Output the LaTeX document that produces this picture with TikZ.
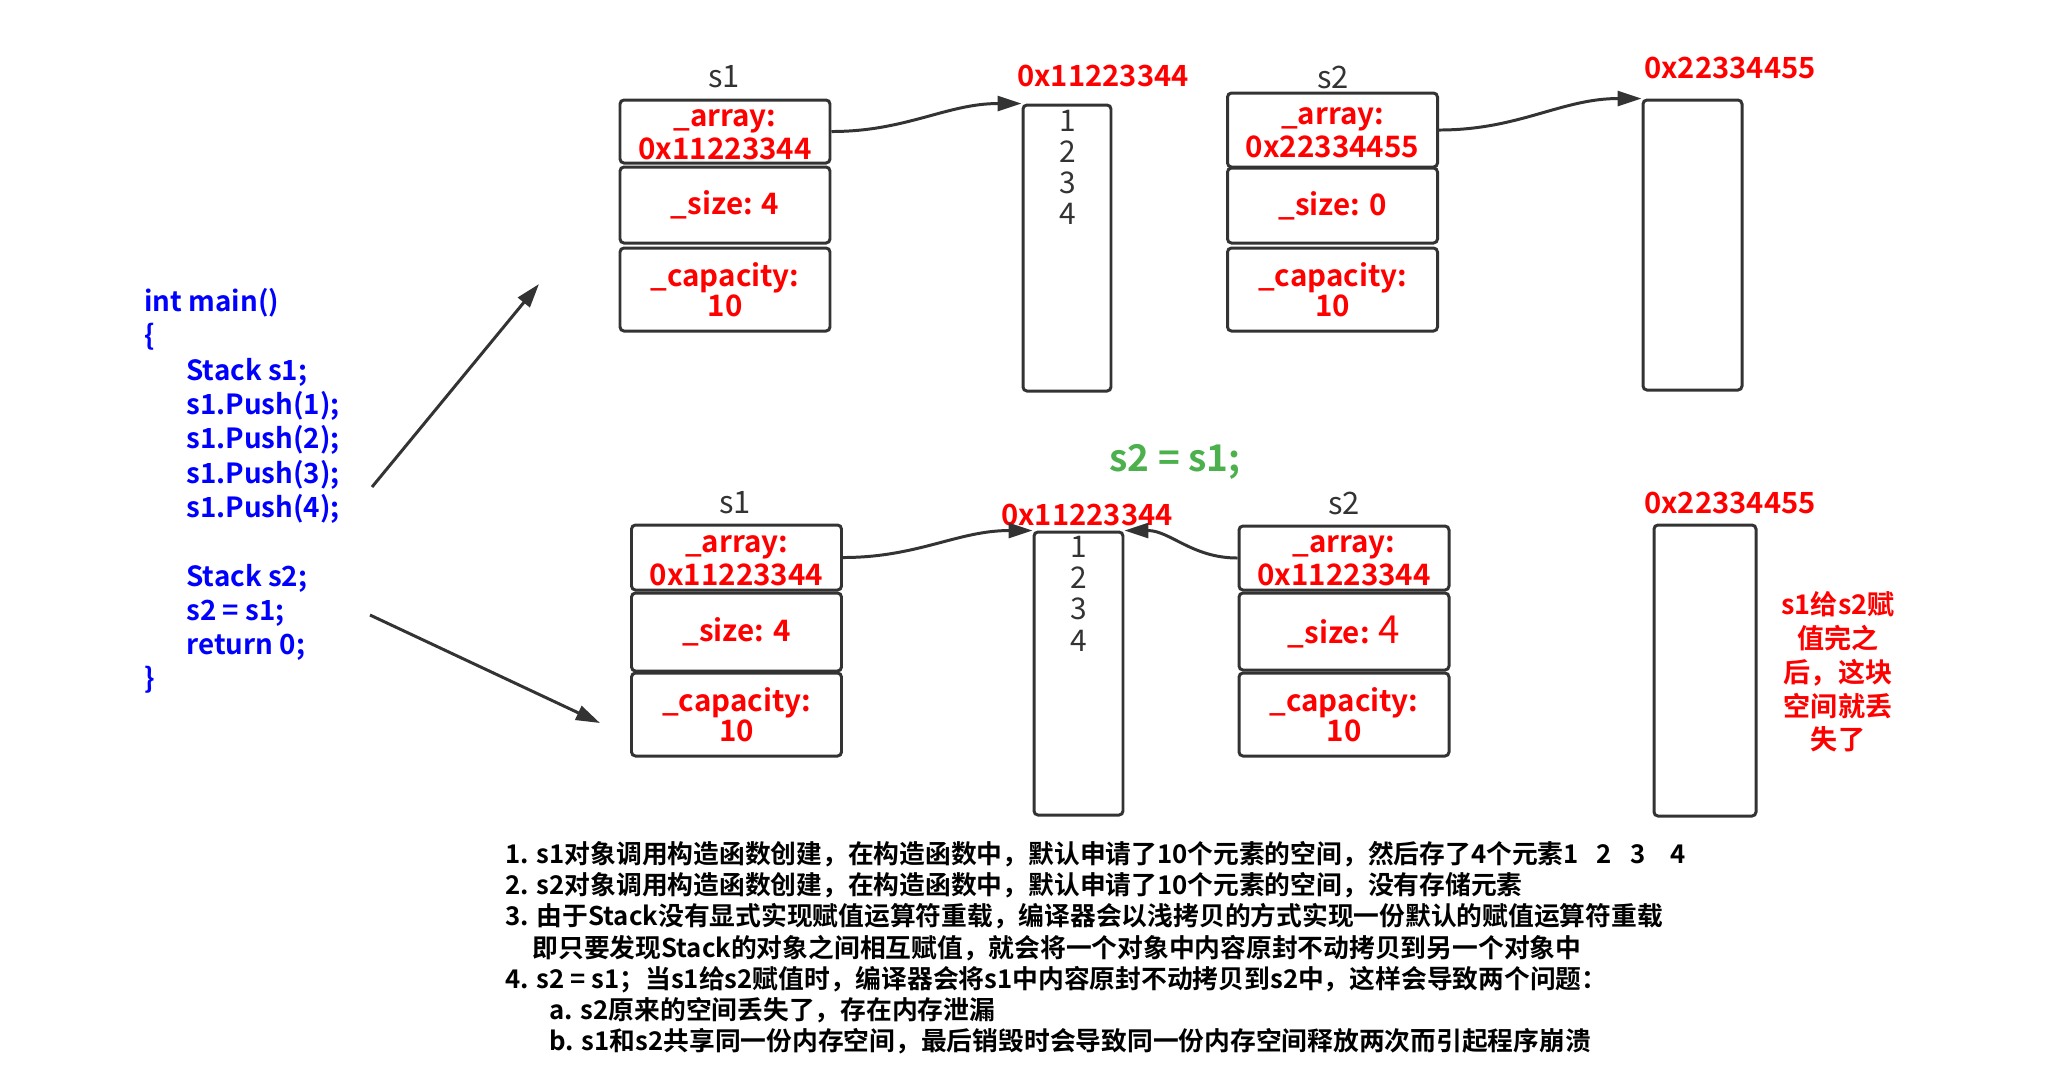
\documentclass[tikz,border=0pt]{standalone}
\usepackage{fontspec}
\setmainfont{Noto Sans CJK SC}[BoldFont={Noto Sans CJK SC Bold}]
\usetikzlibrary{arrows.meta}
\definecolor{boxgray}{HTML}{333333}
\definecolor{codeblue}{HTML}{0000FF}
\definecolor{memred}{HTML}{FF0000}
\definecolor{assigngreen}{HTML}{4CB04C}

\begin{document}
\begin{tikzpicture}[x=0.1mm,y=-0.1mm,line width=0.85pt,
  cell/.style={draw=boxgray,rounded corners=0.4mm,minimum width=21mm,inner sep=0pt,
    align=center,text=memred,font=\fontsize{8.4}{8.6}\selectfont\bfseries},
  ptrcell/.style={cell,font=\fontsize{8.4}{9.4}\selectfont\bfseries},
  block/.style={draw=boxgray,rounded corners=0.4mm,inner sep=0pt},
  varname/.style={text=boxgray,font=\fontsize{8.8}{10}\selectfont},
  addr/.style={text=memred,font=\fontsize{8.3}{10}\selectfont\bfseries},
  num/.style={text=boxgray,font=\fontsize{8.5}{10}\selectfont},
  link/.style={draw=boxgray,-{Triangle[length=2.4mm,width=1.5mm]}}]
  \useasboundingbox (0,0) rectangle (2055,1080);

  % code on the left
  \node[anchor=north west,inner sep=0pt,align=left,text=codeblue,
    font=\fontsize{7.9}{9.76}\selectfont\bfseries] (main) at (143,287)
    {int main()\\
     \{\\
     \hspace*{4.2mm}Stack s1;\\
     \hspace*{4.2mm}s1.Push(1);\\
     \hspace*{4.2mm}s1.Push(2);\\
     \hspace*{4.2mm}s1.Push(3);\\
     \hspace*{4.2mm}s1.Push(4);\\[9.76pt]
     \hspace*{4.2mm}Stack s2;\\
     \hspace*{4.2mm}s2 = s1;\\
     \hspace*{4.2mm}return 0;\\
     \}};
  \coordinate (up0) at (372,487);
  \coordinate (up1) at (539,284);
  \coordinate (dn0) at (370,615);
  \coordinate (dn1) at (600,723);
  \draw[link] (up0) -- (up1);
  \draw[link] (dn0) -- (dn1);

  % before the assignment
  \node[varname] (t1name) at (724,77) {s1};
  \node[ptrcell,minimum height=6.3mm] (t1arr) at (725,131.5) {\strut\_array:\\0x11223344};
  \node[cell,minimum height=7.6mm] (t1size) at (725,205) {\_size: 4};
  \node[cell,minimum height=8.3mm] (t1cap) at (725,289.5) {\_capacity:\\10};
  \node[block,minimum width=8.8mm,minimum height=28.6mm] (t1blk) at (1067,248) {};
  \node[addr] (t1addr) at (1103,76) {0x11223344};
  \node[num] (t1n1) at (1068,121) {1};
  \node[num] (t1n2) at (1068,152) {2};
  \node[num] (t1n3) at (1068,183) {3};
  \node[num] (t1n4) at (1068,214) {4};

  \node[varname] (t2name) at (1333,77) {s2};
  \node[ptrcell,minimum height=7.4mm] (t2arr) at (1332.5,130) {\strut\_array:\\0x22334455};
  \node[cell,minimum height=7.5mm] (t2size) at (1332.5,205.5) {\_size: 0};
  \node[cell,minimum height=8.3mm] (t2cap) at (1332.5,289.5) {\_capacity:\\10};
  \node[block,minimum width=9.9mm,minimum height=29mm] (t2blk) at (1692.5,245) {};
  \node[addr] (t2addr) at (1730,68) {0x22334455};

  \draw[link] (t1arr.east) to[out=0,in=180] (t1blk.north west);
  \draw[link] (t2arr.east) to[out=0,in=180] (t2blk.north west);

  \node[text=assigngreen,font=\fontsize{10.5}{12}\selectfont\bfseries] (assign)
    at (1175,462) {s2 = s1;};

  % after the assignment
  \node[varname] (b1name) at (735,503) {s1};
  \node[ptrcell,minimum height=6.5mm] (b1arr) at (736.5,557.5) {\strut\_array:\\0x11223344};
  \node[cell,minimum height=7.8mm] (b1size) at (736.5,632) {\_size: 4};
  \node[cell,minimum height=8.3mm] (b1cap) at (736.5,714.5) {\_capacity:\\10};
  \node[block,minimum width=8.9mm,minimum height=28.3mm] (b1blk) at (1078.5,673.5) {};
  \node[addr] (b1addr) at (1087,515) {0x11223344};
  \node[num] (b1n1) at (1079,547) {1};
  \node[num] (b1n2) at (1079,578) {2};
  \node[num] (b1n3) at (1079,609) {3};
  \node[num] (b1n4) at (1079,641) {4};

  \node[varname] (b2name) at (1344,503) {s2};
  \node[ptrcell,minimum height=6.4mm] (b2arr) at (1344,558) {\strut\_array:\\0x11223344};
  \node[cell,minimum height=7.7mm] (b2size) at (1344,631.5)
    {\_size: {\fontsize{11}{11}\selectfont\mdseries 4}};
  \node[cell,minimum height=8.3mm] (b2cap) at (1344,714.5) {\_capacity:\\10};
  \node[block,minimum width=10.2mm,minimum height=29.1mm] (b2blk) at (1705,670.5) {};
  \node[addr] (b2addr) at (1730,503) {0x22334455};
  \node[align=center,text=memred,font=\fontsize{7.7}{9.6}\selectfont\bfseries] (lost)
    at (1838,672) {s1给s2赋\\值完之\\后，这块\\空间就丢\\失了};

  \draw[link] (b1arr.east) to[out=0,in=180] (b1blk.north west);
  \draw[link] (b2arr.west) to[out=180,in=0] (b1blk.north east);

  % explanation below
  \node[anchor=north west,inner sep=0pt,align=left,
    font=\fontsize{7.33}{8.87}\selectfont\bfseries] (notes) at (504,840)
    {1. s1对象调用构造函数创建，在构造函数中，默认申请了10个元素的空间，然后存了4个元素1\hspace{0.7em}2\hspace{0.7em}3\hspace{1em}4\\
     2. s2对象调用构造函数创建，在构造函数中，默认申请了10个元素的空间，没有存储元素\\
     3. 由于Stack没有显式实现赋值运算符重载，编译器会以浅拷贝的方式实现一份默认的赋值运算符重载\\
     \hspace*{2.7mm}即只要发现Stack的对象之间相互赋值，就会将一个对象中内容原封不动拷贝到另一个对象中\\
     4. s2 = s1；当s1给s2赋值时，编译器会将s1中内容原封不动拷贝到s2中，这样会导致两个问题：\\
     \hspace*{4.4mm}a. s2原来的空间丢失了，存在内存泄漏\\
     \hspace*{4.4mm}b. s1和s2共享同一份内存空间，最后销毁时会导致同一份内存空间释放两次而引起程序崩溃};
\end{tikzpicture}
\end{document}
